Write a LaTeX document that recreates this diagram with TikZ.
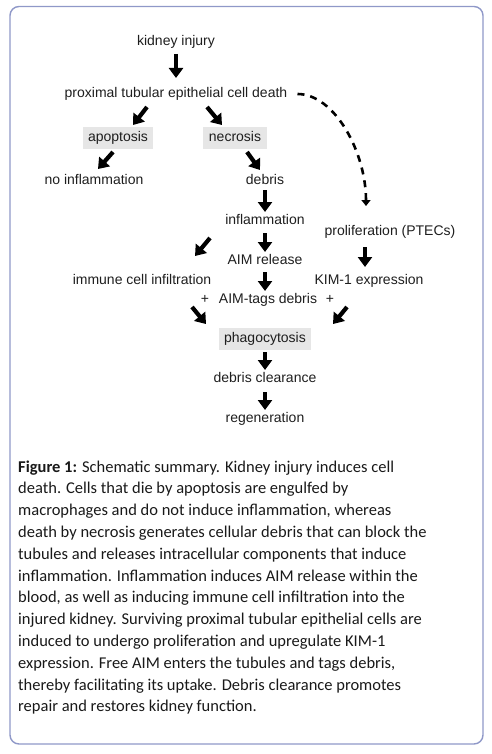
\documentclass[tikz,border=0pt]{standalone}
\usepackage{fontspec}
\setmainfont{Liberation Sans}
\newfontfamily\capfont{Carlito}
\usetikzlibrary{arrows.meta,calc}
\definecolor{framec}{HTML}{8F98C8}
\definecolor{boxfill}{HTML}{E6E6E6}
\definecolor{txt}{HTML}{1E1E1E}
\begin{document}
\begin{tikzpicture}[x=1pt,y=-1pt,
  lbl/.style={inner sep=0pt,text height=10.5pt,text depth=3pt,font=\fontsize{14}{16}\selectfont,text=txt},
  graybox/.style={lbl,fill=boxfill,inner xsep=5.5pt,inner ysep=4.5pt},
  bigarrow/.style={line width=4.2pt,-{Triangle[length=10pt,width=14pt]}},
  dasharrow/.style={line width=2.6pt,dash pattern=on 7pt off 6pt,-{Triangle[length=6pt,width=9pt]}},
  capline/.style={anchor=base west,inner sep=0pt,font=\capfont\fontsize{16.5}{20}\selectfont,text=black!90}]
\useasboundingbox (0,0) rectangle (491,754);
\draw[framec,line width=1.4pt,rounded corners=9pt] (10,6.5) rectangle (483,744);
% nodes
\node[lbl] (ki) at (176,42) {kidney injury};
\node[lbl] (death) at (176,94) {proximal tubular epithelial cell death};
\node[graybox] (apop) at (118,138) {apoptosis};
\node[graybox] (necr) at (235,138) {necrosis};
\node[lbl] (noinf) at (94,181) {no inflammation};
\node[lbl] (debris) at (265,181) {debris};
\node[lbl] (inflam) at (265,221) {inflammation};
\node[lbl] (prolif) at (390,232) {proliferation (PTECs)};
\node[lbl] (aim) at (265,261) {AIM release};
\node[lbl] (immune) at (142,281) {immune cell infiltration};
\node[lbl] (kim) at (369,281) {KIM-1 expression};
\node[lbl] (tags) at (268,300) {AIM-tags debris};
\node[lbl] (plusl) at (205,300) {+};
\node[lbl] (plusr) at (330,300) {+};
\node[graybox] (phago) at (265,339) {phagocytosis};
\node[lbl] (clear) at (265,379) {debris clearance};
\node[lbl] (regen) at (265,419) {regeneration};
% arrows
\draw[bigarrow] ([shift={(0,12)}]ki.center) -- ([shift={(0,-16)}]death.center);
\draw[bigarrow] ([shift={(-29,13)}]death.center) -- ([shift={(15,-13)}]apop.center);
\draw[bigarrow] ([shift={(31,13)}]death.center) -- ([shift={(-13,-13)}]necr.center);
\draw[bigarrow] ([shift={(-5,14)}]apop.center) -- ([shift={(4,-12)}]noinf.center);
\draw[bigarrow] ([shift={(12,14)}]necr.center) -- ([shift={(-5,-11)}]debris.center);
\draw[bigarrow] ([shift={(0,9)}]debris.center) -- ([shift={(0,-9)}]inflam.center);
\draw[bigarrow] ([shift={(0,12)}]inflam.center) -- ([shift={(0,-9)}]aim.center);
\draw[bigarrow] ([shift={(-55,17)}]inflam.center) -- ([shift={(53,-25)}]immune.center);
\draw[bigarrow] ([shift={(-25,15)}]prolif.center) -- ([shift={(-4,-14)}]kim.center);
\draw[bigarrow] ([shift={(0,11)}]aim.center) -- ([shift={(-3,-9)}]tags.center);
\draw[bigarrow] ([shift={(50,26)}]immune.center) -- ([shift={(-59,-15)}]phago.center);
\draw[bigarrow] ([shift={(-22,26)}]kim.center) -- ([shift={(68,-15)}]phago.center);
\draw[bigarrow] ([shift={(0,13)}]phago.center) -- ([shift={(0,-9)}]clear.center);
\draw[bigarrow] ([shift={(0,13)}]clear.center) -- ([shift={(0,-9)}]regen.center);
\draw[dasharrow] ([shift={(10,0)}]death.east) .. controls ([shift={(47,0)}]death.east) and ([shift={(-24,-80)}]prolif.center) .. ([shift={(-24,-26)}]prolif.center);
% caption
\node[capline] (c1) at (18,472) {\textbf{Figure 1:} Schematic summary. Kidney injury induces cell};
\node[capline] (c2) at (18,493.8) {death. Cells that die by apoptosis are engulfed by};
\node[capline] (c3) at (18,515.6) {macrophages and do not induce inflammation, whereas};
\node[capline] (c4) at (18,537.4) {death by necrosis generates cellular debris that can block the};
\node[capline] (c5) at (18,559.2) {tubules and releases intracellular components that induce};
\node[capline] (c6) at (18,581) {inflammation. Inflammation induces AIM release within the};
\node[capline] (c7) at (18,602.8) {blood, as well as inducing immune cell infiltration into the};
\node[capline] (c8) at (18,624.6) {injured kidney. Surviving proximal tubular epithelial cells are};
\node[capline] (c9) at (18,646.4) {induced to undergo proliferation and upregulate KIM-1};
\node[capline] (c10) at (18,668.2) {expression. Free AIM enters the tubules and tags debris,};
\node[capline] (c11) at (18,690) {thereby facilitating its uptake. Debris clearance promotes};
\node[capline] (c12) at (18,711.8) {repair and restores kidney function.};
\end{tikzpicture}
\end{document}
